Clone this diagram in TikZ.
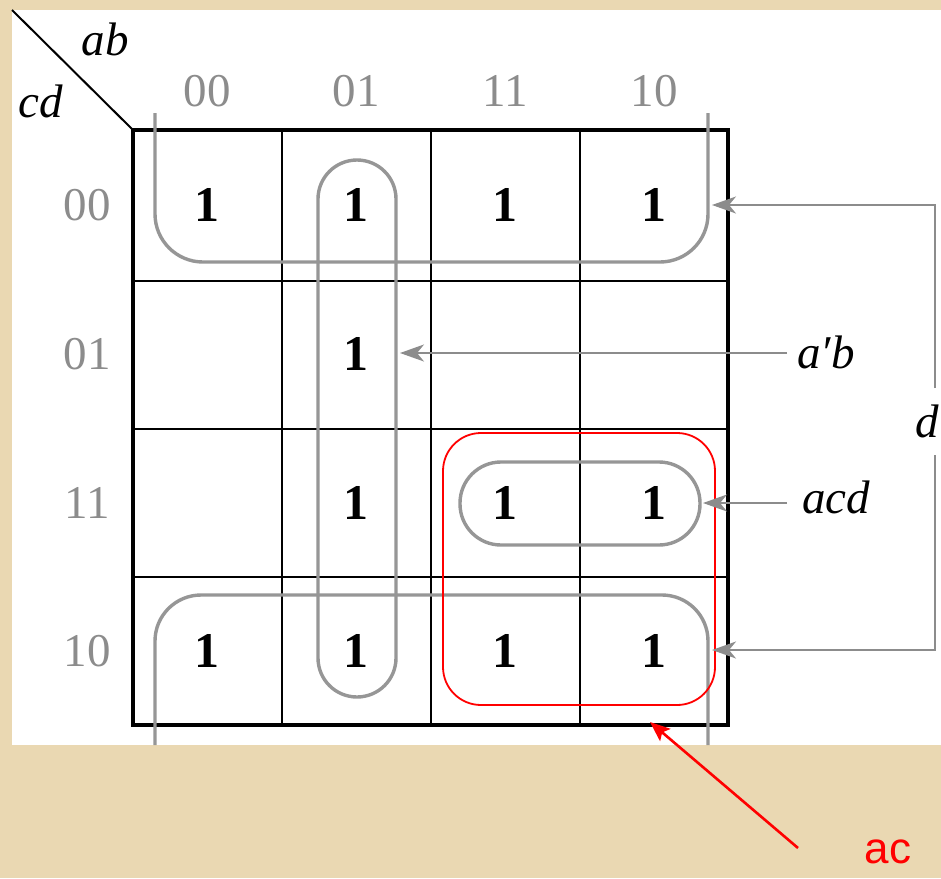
\documentclass[tikz,border=0pt]{standalone}
\usepackage{fontspec}
\setmainfont{Liberation Serif}
\newfontfamily\arialfont{Liberation Sans}
\usetikzlibrary{arrows.meta}
\definecolor{parch}{RGB}{234,216,178}
\definecolor{loopgray}{RGB}{150,150,150}
\definecolor{lblgray}{RGB}{140,140,140}
\definecolor{redline}{RGB}{255,0,0}
\begin{document}
\begin{tikzpicture}[x=1pt,y=-1pt,
  onecell/.style={font=\fontsize{50}{52}\selectfont\bfseries, inner sep=0pt},
  hdr/.style={font=\fontsize{47}{50}\selectfont, text=lblgray, inner sep=0pt},
  varlbl/.style={font=\fontsize{47}{50}\selectfont\itshape, inner sep=0pt},
  loopline/.style={draw=loopgray, line width=3.4pt},
  garrow/.style={draw=lblgray, line width=1.8pt, -{Stealth[length=24pt,width=17pt,inset=7pt]}},
  rarrow/.style={draw=redline, line width=2.6pt, -{Stealth[length=20pt,width=16pt,inset=4pt]}},
  gridthick/.style={draw=black, line width=4pt},
  gridthin/.style={draw=black, line width=1.8pt}]
\useasboundingbox (0,0) rectangle (941,878);
\fill[parch] (0,0) rectangle (941,878);
\fill[white] (12,10) rectangle (941,745);
% corner diagonal and variable names
\coordinate (corner0) at (12,10);
\coordinate (corner1) at (133,130);
\draw[line width=2pt] (corner0) -- (corner1);
\node[varlbl] (ab) at (105,39) {ab};
\node[varlbl] (cd) at (41,101) {cd};
% column and row headers
\node[hdr] (col00) at (207,91) {00};
\node[hdr] (col01) at (356,91) {01};
\node[hdr] (col11) at (505,91) {11};
\node[hdr] (col10) at (654,91) {10};
\node[hdr] (row00) at (87,205) {00};
\node[hdr] (row01) at (87,354) {01};
\node[hdr] (row11) at (87,503) {11};
\node[hdr] (row10) at (87,651) {10};
% grid
\draw[gridthin] (282,130) -- (282,725) (431,130) -- (431,725) (580,130) -- (580,725);
\draw[gridthin] (133,281) -- (728,281) (133,429) -- (728,429) (133,577) -- (728,577);
\draw[gridthick] (133,130) rectangle (728,725);
% ones
\node[onecell] (m0) at (207,205) {1};
\node[onecell] (m4) at (356,205) {1};
\node[onecell] (m12) at (505,205) {1};
\node[onecell] (m8) at (654,205) {1};
\node[onecell] (m5) at (356,354) {1};
\node[onecell] (m7) at (356,503) {1};
\node[onecell] (m15) at (505,503) {1};
\node[onecell] (m11) at (654,503) {1};
\node[onecell] (m2) at (207,651) {1};
\node[onecell] (m6) at (356,651) {1};
\node[onecell] (m14) at (505,651) {1};
\node[onecell] (m10) at (654,651) {1};
% loops
\draw[loopline, rounded corners=48pt] (155,113) -- (155,262) -- (708,262) -- (708,113);
\draw[loopline, rounded corners=46pt] (155,745) -- (155,595) -- (708,595) -- (708,745);
\draw[loopline, rounded corners=39pt] (318,160) rectangle (396,697);
\draw[loopline, rounded corners=41pt] (460,462) rectangle (700,545);
% red group
\draw[draw=redline, line width=1.8pt, rounded corners=38pt] (443,433) rectangle (715,705);
% labels on the right
\node[varlbl] (apb) at (826,352) {a\char"2032b};
\node[varlbl] (acd) at (836,497) {acd};
\node[varlbl] (dl) at (927,421) {d};
\coordinate (apbtail) at (787,353);
\coordinate (apbtip) at (400,353);
\coordinate (acdtail) at (787,503);
\coordinate (acdtip) at (703,503);
\coordinate (dtop) at (935,388);
\coordinate (dbot) at (935,455);
\coordinate (dtiptop) at (712,205);
\coordinate (dtipbot) at (712,650);
\draw[garrow] (apbtail) -- (apbtip);
\draw[garrow] (acdtail) -- (acdtip);
\draw[garrow] (dtop) |- (dtiptop);
\draw[garrow] (dbot) |- (dtipbot);
% red label
\node[font=\arialfont\fontsize{44}{48}\selectfont, text=redline, inner sep=0pt] (aclbl) at (888,852) {ac};
\coordinate (actip) at (650,722);
\coordinate (actail) at (798,848);
\draw[rarrow] (actail) -- (actip);
\end{tikzpicture}
\end{document}
